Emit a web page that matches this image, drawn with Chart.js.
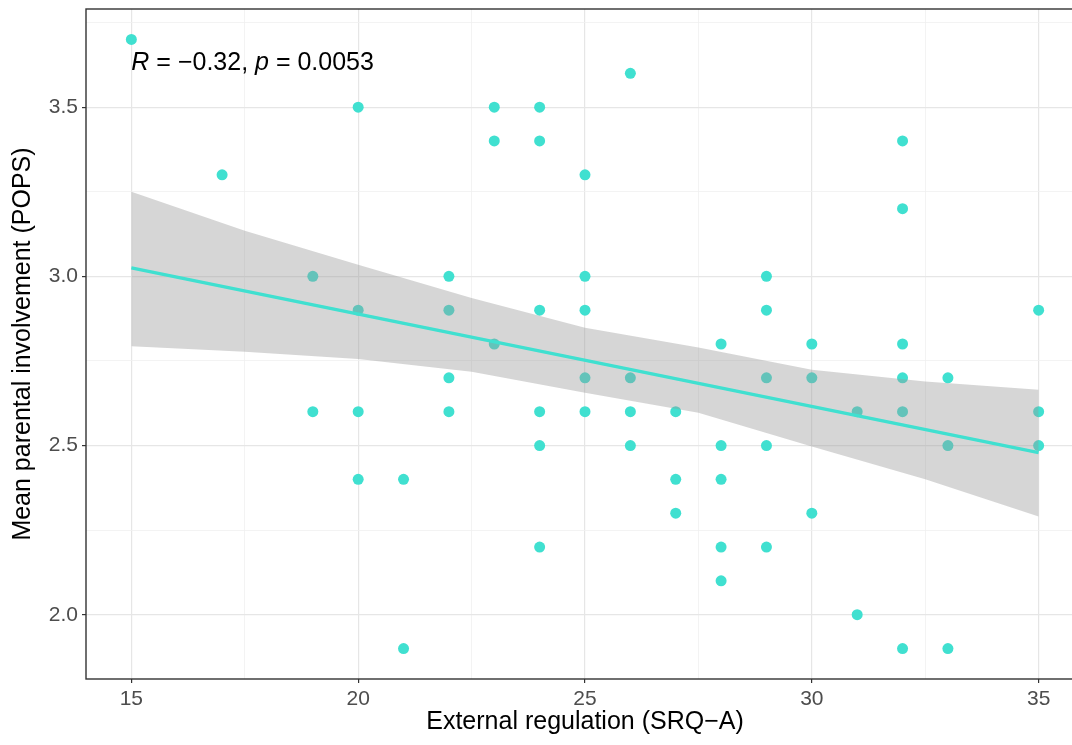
<!DOCTYPE html>
<html>
<head>
<meta charset="utf-8">
<script src="https://cdn.jsdelivr.net/npm/chart.js@4.4.1/dist/chart.umd.min.js"></script>
<style>
  html, body { margin: 0; padding: 0; background: #fff; overflow: hidden; }
  #wrap { width: 1090px; height: 745px; position: relative; }
</style>
</head>
<body>
<div id="wrap"><canvas id="scatter-chart"></canvas></div>
<script>
  'use strict';

  // External regulation (SRQ-A) score of each participant
  var srqScores = [
    15, 17, 19, 19, 20, 20, 20, 20, 21, 21,
    22, 22, 22, 22, 23, 23, 23,
    24, 24, 24, 24, 24, 24,
    25, 25, 25, 25, 25,
    26, 26, 26, 26,
    27, 27, 27,
    28, 28, 28, 28, 28,
    29, 29, 29, 29, 29,
    30, 30, 30, 31, 31,
    32, 32, 32, 32, 32, 32,
    33, 33, 33, 35, 35, 35
  ];
  // Mean parental involvement (POPS), same order
  var popsMeans = [
    3.7, 3.3, 3.0, 2.6, 3.5, 2.9, 2.6, 2.4, 2.4, 1.9,
    3.0, 2.9, 2.7, 2.6, 3.5, 3.4, 2.8,
    3.5, 3.4, 2.9, 2.6, 2.5, 2.2,
    3.3, 3.0, 2.9, 2.7, 2.6,
    3.6, 2.7, 2.6, 2.5,
    2.6, 2.4, 2.3,
    2.8, 2.5, 2.4, 2.2, 2.1,
    3.0, 2.9, 2.7, 2.5, 2.2,
    2.8, 2.7, 2.3, 2.6, 2.0,
    3.4, 3.2, 2.8, 2.7, 2.6, 1.9,
    2.7, 2.5, 1.9, 2.9, 2.6, 2.5
  ];

  // linear fit and its 95% band
  var fitX = [15, 35];
  var fitY = [3.025, 2.479];
  var bandX = [15, 17.5, 20, 22.5, 25, 27.5, 30, 32.5, 35];
  var bandUpper = [3.25, 3.135, 3.034, 2.936, 2.848, 2.79, 2.724, 2.689, 2.665];
  var bandLower = [2.793, 2.777, 2.756, 2.718, 2.656, 2.597, 2.497, 2.40, 2.29];

  var xTickLabels = ['15', '20', '25', '30', '35'];
  var yTickLabels = ['2.0', '2.5', '3.0', '3.5'];

  var statLabel = [['R', true], [' = \u22120.32, ', false], ['p', true], [' = 0.0053', false]];
  var statAt = { x: 15, y: 3.61 };

  var turquoise = '#40e0d0';
  var fontFamily = '"Liberation Sans", Arial, Helvetica, sans-serif';

  function toPoints(xs, ys) {
    return xs.map(function (x, i) { return { x: x, y: ys[i] }; });
  }

  function isMajor(v, step) {
    var k = v / step;
    return Math.abs(k - Math.round(k)) < 1e-6;
  }

  var panelDecor = {
    id: 'panelDecor',
    afterDatasetsDraw: function (chart) {
      var ctx = chart.ctx;
      var px = chart.scales.x.getPixelForValue(statAt.x);
      var py = chart.scales.y.getPixelForValue(statAt.y);
      ctx.save();
      ctx.fillStyle = '#000';
      ctx.textBaseline = 'alphabetic';
      ctx.textAlign = 'left';
      statLabel.forEach(function (part) {
        ctx.font = (part[1] ? 'italic ' : '') + '25px ' + fontFamily;
        ctx.fillText(part[0], px, py);
        px += ctx.measureText(part[0]).width;
      });
      ctx.restore();
    },
    afterDraw: function (chart) {
      var a = chart.chartArea, ctx = chart.ctx;
      ctx.save();
      ctx.strokeStyle = '#333333';
      ctx.lineWidth = 1.4;
      ctx.strokeRect(a.left, a.top, a.right - a.left, a.bottom - a.top);
      ctx.restore();
    }
  };

  var ctx = document.getElementById('scatter-chart').getContext('2d');
  window.srqChart = new Chart(ctx, {
    type: 'scatter',
    data: {
      datasets: [
        {
          data: toPoints(fitX, fitY),
          showLine: true,
          borderColor: turquoise,
          borderWidth: 3.2,
          pointRadius: 0,
          order: 0
        },
        {
          data: toPoints(bandX, bandUpper),
          showLine: true,
          borderWidth: 0,
          borderColor: 'rgba(0,0,0,0)',
          backgroundColor: 'rgba(153,153,153,0.4)',
          fill: '+1',
          pointRadius: 0,
          order: 1
        },
        {
          data: toPoints(bandX, bandLower),
          showLine: true,
          borderWidth: 0,
          borderColor: 'rgba(0,0,0,0)',
          fill: false,
          pointRadius: 0,
          order: 2
        },
        {
          data: toPoints(srqScores, popsMeans),
          backgroundColor: turquoise,
          borderWidth: 0,
          pointRadius: 5.5,
          order: 3
        }
      ]
    },
    options: {
      responsive: true,
      maintainAspectRatio: false,
      animation: false,
      layout: { padding: { top: 9, right: 6, bottom: 0, left: 0 } },
      plugins: {
        legend: { display: false },
        tooltip: { enabled: false }
      },
      scales: {
        x: {
          type: 'linear',
          min: 14,
          max: 36,
          afterFit: function (scale) {
            scale.height = 66;
            scale.paddingLeft = 0;
            scale.paddingRight = 0;
          },
          border: { display: false },
          grid: {
            color: function (c) { return isMajor(c.tick.value, 5) ? '#e6e6e6' : '#f0f0f0'; },
            lineWidth: function (c) { return isMajor(c.tick.value, 5) ? 1.2 : 0.8; },
            tickColor: function (c) { return isMajor(c.tick.value, 5) ? '#333333' : 'rgba(0,0,0,0)'; },
            tickLength: 4,
            tickWidth: 1.2
          },
          ticks: {
            stepSize: 2.5,
            includeBounds: false,
            autoSkip: false,
            maxRotation: 0,
            padding: 4,
            color: '#4d4d4d',
            font: { family: fontFamily, size: 21 },
            callback: function (v) {
              var s = String(v);
              return xTickLabels.indexOf(s) >= 0 ? s : '';
            }
          },
          title: {
            display: true,
            text: 'External regulation (SRQ\u2212A)',
            color: '#000',
            font: { family: fontFamily, size: 25 },
            padding: { top: 0, bottom: 8 }
          }
        },
        y: {
          type: 'linear',
          min: 1.81,
          max: 3.79,
          afterFit: function (scale) {
            scale.width = 86;
            scale.paddingTop = 0;
            scale.paddingBottom = 0;
          },
          border: { display: false },
          grid: {
            color: function (c) { return isMajor(c.tick.value, 0.5) ? '#e6e6e6' : '#f0f0f0'; },
            lineWidth: function (c) { return isMajor(c.tick.value, 0.5) ? 1.2 : 0.8; },
            tickColor: function (c) { return isMajor(c.tick.value, 0.5) ? '#333333' : 'rgba(0,0,0,0)'; },
            tickLength: 4,
            tickWidth: 1.2
          },
          ticks: {
            stepSize: 0.25,
            includeBounds: false,
            autoSkip: false,
            padding: 4,
            color: '#4d4d4d',
            font: { family: fontFamily, size: 21 },
            callback: function (v) {
              var s = Number(v).toFixed(1);
              return isMajor(v, 0.5) && yTickLabels.indexOf(s) >= 0 ? s : '';
            }
          },
          title: {
            display: true,
            text: 'Mean parental involvement (POPS)',
            color: '#000',
            font: { family: fontFamily, size: 25 },
            padding: { top: 8, bottom: 0 }
          }
        }
      }
    },
    plugins: [panelDecor]
  });
</script>
</body>
</html>
